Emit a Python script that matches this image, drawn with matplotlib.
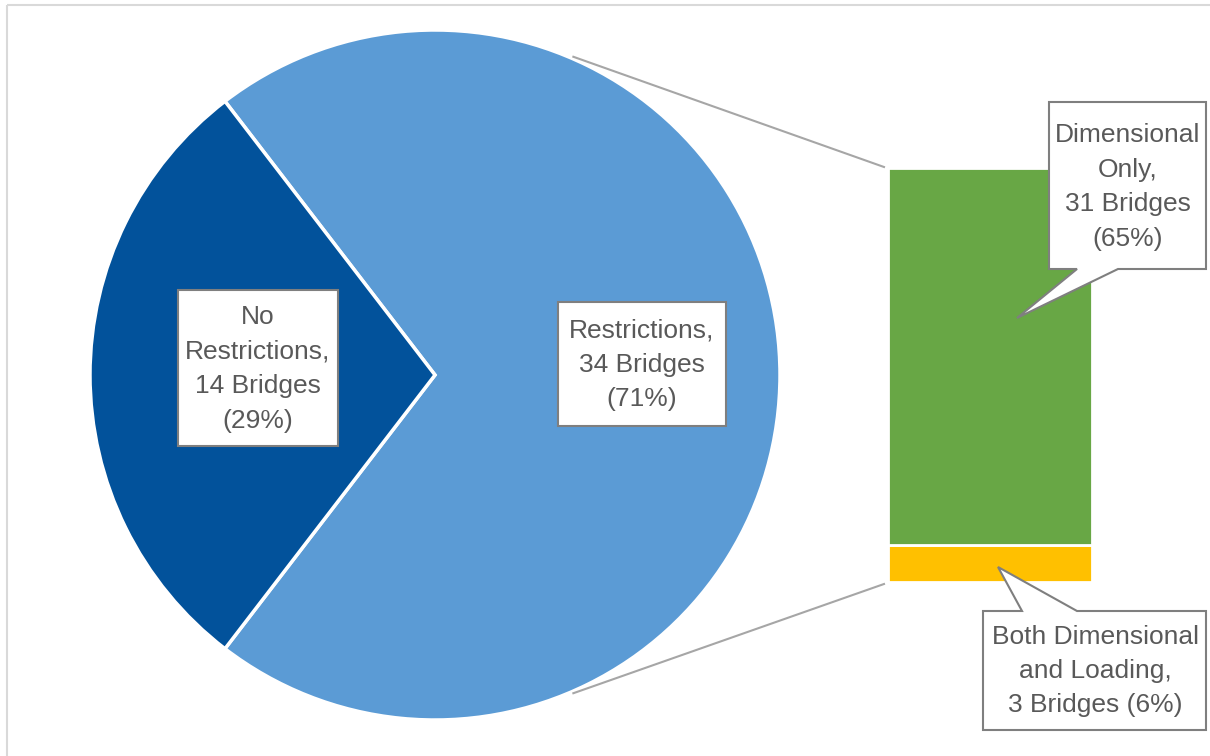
import matplotlib
matplotlib.use("Agg")
import matplotlib.pyplot as plt
from matplotlib.patches import Polygon, Rectangle
import numpy as np

# ---- data ----
pie_labels = ["Restrictions", "No Restrictions"]
pie_values = [34, 14]
pie_pcts = [71, 29]
bar_labels = ["Dimensional Only", "Both Dimensional and Loading"]
bar_values = [31, 3]
bar_pcts = [65, 6]

# ---- style ----
C_LIGHT = "#5B9BD5"
C_DARK = "#02529B"
C_GREEN = "#68A745"
C_YELLOW = "#FFC000"
C_TEXT = "#595959"
C_BOXEDGE = "#7F7F7F"
C_LINE = "#A6A6A6"

plt.rcParams['font.family'] = ['Liberation Sans', 'DejaVu Sans']

W, H = 1210, 756
fig = plt.figure(figsize=(W / 100, H / 100), dpi=100)
ax = fig.add_axes([0, 0, 1, 1])

# chart-area border
ax.add_patch(Rectangle((7, 5), 1230, 780, fill=False, edgecolor="#D9D9D9", lw=1.5, zorder=0))

# ---- pie ----
cx, cy, R = 435, 375, 345
total = sum(pie_values)
start = -0.5 * pie_values[0] / total * 360  # restrictions slice centred on the right
wedges, _ = ax.pie(pie_values, colors=[C_LIGHT, C_DARK], startangle=start,
                   counterclock=True, center=(cx, cy), radius=R,
                   wedgeprops=dict(edgecolor="white", linewidth=2.5), frame=True)
ax.set_xlim(0, W)
ax.set_ylim(H, 0)
ax.set_aspect('equal')
ax.axis('off')

# ---- bar (stacked) ----
bx0, bx1 = 888, 1092
bar_bottom = 582
unit = (582 - 168) / sum(bar_values)
stack = [bar_values[1], bar_values[0]]  # yellow at bottom, green on top
cols = [C_YELLOW, C_GREEN]
cum = 0
for v, c in zip(stack, cols):
    ax.bar((bx0 + bx1) / 2, -v * unit, bottom=bar_bottom - cum * unit, width=bx1 - bx0,
           color=c, edgecolor="white", linewidth=2, zorder=3)
    cum += v

# connector lines
ang = np.deg2rad(66.5)
ax.plot([cx + (R + 2) * np.cos(ang), 884], [cy - (R + 2) * np.sin(ang), 167], color=C_LINE, lw=1.5, zorder=2)
ax.plot([cx + (R + 2) * np.cos(ang), 884], [cy + (R + 2) * np.sin(ang), 584], color=C_LINE, lw=1.5, zorder=2)

FS = 19
LS = 1.55

def box(x0, y0, x1, y1):
    ax.add_patch(Polygon([(x0, y0), (x1, y0), (x1, y1), (x0, y1)], closed=True,
                         facecolor="white", edgecolor=C_BOXEDGE, lw=1.5, zorder=5))

def label(x, y, s):
    ax.text(x, y, s, ha="center", va="center", fontsize=FS, color=C_TEXT,
            linespacing=LS, zorder=6, multialignment="center")

w0 = pie_labels[1].split(" ")
# No restrictions label
box(178, 290, 338, 446)
label(258, 369, f"{w0[0]}\n{w0[1]},\n{pie_values[1]} Bridges\n({pie_pcts[1]}%)")

# Restrictions label
box(558, 302, 726, 426)
label(642, 365, f"{pie_labels[0]},\n{pie_values[0]} Bridges\n({pie_pcts[0]}%)")

# Dimensional only callout
b0 = bar_labels[0].split(" ")
ax.add_patch(Polygon([(1049, 102), (1206, 102), (1206, 269), (1118, 269), (1017, 318),
                      (1077, 269), (1049, 269)], closed=True,
                     facecolor="white", edgecolor=C_BOXEDGE, lw=1.5, zorder=5))
label(1128, 187, f"{b0[0]}\n{b0[1]},\n{bar_values[0]} Bridges\n({bar_pcts[0]}%)")

# Both callout
b1 = bar_labels[1].split(" ")
ax.add_patch(Polygon([(983, 611), (1022, 611), (998, 567), (1077, 611), (1206, 611),
                      (1206, 730), (983, 730)], closed=True,
                     facecolor="white", edgecolor=C_BOXEDGE, lw=1.5, zorder=5))
label(1095, 671, f"{b1[0]} {b1[1]}\n{b1[2]} {b1[3]},\n{bar_values[1]} Bridges ({bar_pcts[1]}%)")

fig.savefig("out.png", dpi=100)
